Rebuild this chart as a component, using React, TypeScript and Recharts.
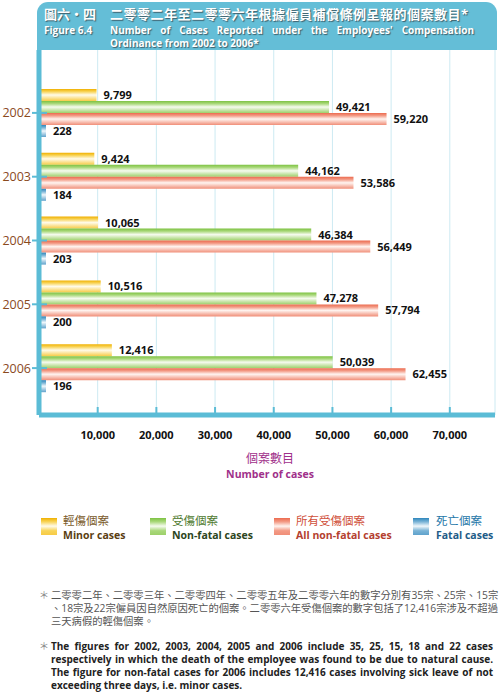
import React from 'react'
import { BarChart, Bar, XAxis, YAxis, CartesianGrid, LabelList } from 'recharts'

const years = ['2002', '2003', '2004', '2005', '2006']
const minorCases = [9799, 9424, 10065, 10516, 12416]
const nonFatalCases = [49421, 44162, 46384, 47278, 50039]
const allNonFatalCases = [59220, 53586, 56449, 57794, 62455]
const fatalCases = [228, 184, 203, 200, 196]
const xTicks = [10000, 20000, 30000, 40000, 50000, 60000, 70000]

const FONT = "'Open Sans', 'Noto Sans CJK TC', sans-serif"
const AXIS_BLUE = '#5BBCD6'

const data = years.map((year, i) => ({
  year,
  minor: minorCases[i],
  nonFatal: nonFatalCases[i],
  allNonFatal: allNonFatalCases[i],
  fatal: fatalCases[i],
}))

const series = [
  { key: 'minor', grad: 'gMinor', top: '#F0B000', mid: '#F8D458', light: '#FFFBEA', bottom: '#F7CB45' },
  { key: 'nonFatal', grad: 'gNonFatal', top: '#7DC242', mid: '#A9D87A', light: '#F6FBEF', bottom: '#9DD06A' },
  { key: 'allNonFatal', grad: 'gAll', top: '#EC6A4E', mid: '#F39A85', light: '#FFF4F0', bottom: '#F08E78' },
  { key: 'fatal', grad: 'gFatal', top: '#2E86BC', mid: '#79B3D6', light: '#F0F7FB', bottom: '#5FA2CC' },
]

const legendItems = [
  { zh: '輕傷個案', en: 'Minor cases', zhColor: '#7A5A2A', enColor: '#5A3E12', x: 41, textX: 63, ...series[0] },
  { zh: '受傷個案', en: 'Non-fatal cases', zhColor: '#4E7A2E', enColor: '#2C4520', x: 150, textX: 172, ...series[1] },
  { zh: '所有受傷個案', en: 'All non-fatal cases', zhColor: '#D0503A', enColor: '#B4402F', x: 274, textX: 296, ...series[2] },
  { zh: '死亡個案', en: 'Fatal cases', zhColor: '#2577A8', enColor: '#1E5C88', x: 413, textX: 436, ...series[3] },
]

const fmt = (v: number) => v.toLocaleString('en-US')

const YearTick = (props: any) => {
  const { x, y, payload } = props
  return (
    <g>
      <line x1={x - 7} x2={x + 8} y1={y} y2={y} stroke={AXIS_BLUE} strokeWidth={2} />
      <text x={x - 8} y={y} dy="0.36em" textAnchor="end" fill="#8A4A1E" fontSize={12.5} fontFamily={FONT}>
        {payload.value}
      </text>
    </g>
  )
}

const CaseTick = (props: any) => {
  const { x, y, payload } = props
  return (
    <g>
      <line x1={x} x2={x} y1={y - 8} y2={y} stroke={AXIS_BLUE} strokeWidth={2} />
      <text x={x} y={y + 20} dy="0.36em" textAnchor="middle" fill="#111" fontSize={11} fontWeight="bold" fontFamily={FONT}>
        {fmt(payload.value)}
      </text>
    </g>
  )
}

const justifyLine: React.CSSProperties = {
  textAlign: 'justify',
  textAlignLast: 'justify',
  whiteSpace: 'nowrap',
  height: 13,
  lineHeight: '13px',
}

export default function App() {
  return (
    <div style={{ position: 'absolute', left: 0, top: 0, width: 500, height: 698, fontFamily: FONT, background: '#fff', overflow: 'hidden' }}>
      <div style={{ position: 'absolute', left: 0, top: 0 }}>
        <BarChart
          width={500}
          height={450}
          data={data}
          layout="vertical"
          margin={{ top: 50, right: 5, bottom: 5, left: 0 }}
          barGap={0}
          barSize={12}
        >
          <defs>
            {series.map((s) => (
              <linearGradient key={s.grad} id={s.grad} x1="0" y1="0" x2="0" y2="1">
                <stop offset="0%" stopColor={s.top} />
                <stop offset="22%" stopColor={s.mid} />
                <stop offset="50%" stopColor={s.light} />
                <stop offset="100%" stopColor={s.bottom} />
              </linearGradient>
            ))}
          </defs>
          <CartesianGrid horizontal={false} stroke="#CDEAF2" strokeWidth={1} />
          <XAxis
            type="number"
            domain={[0, 77700]}
            ticks={xTicks}
            interval={0}
            height={30}
            tickLine={false}
            tickSize={0}
            tickMargin={0}
            axisLine={{ stroke: AXIS_BLUE, strokeWidth: 5 }}
            tick={<CaseTick />}
          />
          <YAxis
            type="category"
            dataKey="year"
            width={39}
            padding={{ top: 31, bottom: 15 }}
            tickLine={false}
            tickSize={0}
            tickMargin={0}
            axisLine={{ stroke: AXIS_BLUE, strokeWidth: 5 }}
            tick={<YearTick />}
          />
          {series.map((s) => (
            <Bar
              key={s.key}
              dataKey={s.key}
              fill={`url(#${s.grad})`}
              isAnimationActive={false}
              minPointSize={s.key === 'fatal' ? 7 : 0}
            >
              <LabelList
                dataKey={s.key}
                position="right"
                offset={7}
                formatter={(v: any) => fmt(Number(v))}
                fill="#111"
                fontSize={11}
                fontWeight="bold"
                fontFamily={FONT}
              />
            </Bar>
          ))}
        </BarChart>
      </div>

      {/* header band */}
      <div
        style={{
          position: 'absolute',
          left: 37,
          top: 2,
          width: 460,
          height: 48,
          background: '#64BED7',
          borderRadius: '11px 11px 0 0',
          color: '#fff',
          fontWeight: 'bold',
          textShadow: '1px 1px 1px #3E5F6A',
        }}
      >
        <div style={{ position: 'absolute', left: 7, top: 4, fontSize: 13, lineHeight: '16px', height: 16, whiteSpace: 'nowrap' }}>圖六・四</div>
        <div style={{ position: 'absolute', left: 73, top: 4, fontSize: 13, letterSpacing: 0.5, lineHeight: '16px', height: 16, whiteSpace: 'nowrap' }}>
          二零零二年至二零零六年根據僱員補償條例呈報的個案數目*
        </div>
        <div style={{ position: 'absolute', left: 7, top: 22, fontSize: 10, lineHeight: '12px', height: 12, whiteSpace: 'nowrap' }}>Figure 6.4</div>
        <div style={{ position: 'absolute', left: 73, top: 22, width: 364, fontSize: 10, lineHeight: '12px', height: 12, textAlign: 'justify', textAlignLast: 'justify', whiteSpace: 'nowrap' }}>
          Number of Cases Reported under the Employees' Compensation
        </div>
        <div style={{ position: 'absolute', left: 73, top: 35, fontSize: 10, lineHeight: '12px', height: 12, whiteSpace: 'nowrap' }}>
          Ordinance from 2002 to 2006*
        </div>
      </div>

      {/* axis title */}
      <div style={{ position: 'absolute', left: 170, width: 200, top: 452, textAlign: 'center', color: '#A0308A' }}>
        <div style={{ fontSize: 12, lineHeight: '13px', height: 13 }}>個案數目</div>
        <div style={{ fontSize: 10.5, lineHeight: '12px', height: 12, marginTop: 3, fontWeight: 'bold' }}>Number of cases</div>
      </div>

      {/* legend */}
      {legendItems.map((it) => (
        <React.Fragment key={it.key}>
          <div
            style={{
              position: 'absolute',
              left: it.x,
              top: 518,
              width: 16,
              height: 17,
              background: `linear-gradient(to bottom, ${it.top} 0%, ${it.mid} 22%, ${it.light} 48%, ${it.mid} 75%, ${it.bottom} 100%)`,
            }}
          />
          <div style={{ position: 'absolute', left: it.textX, top: 514, fontSize: 11.5, lineHeight: '14px', height: 14, color: it.zhColor, whiteSpace: 'nowrap' }}>
            {it.zh}
          </div>
          <div style={{ position: 'absolute', left: it.textX, top: 529, fontSize: 10.5, lineHeight: '12px', height: 12, fontWeight: 'bold', color: it.enColor, whiteSpace: 'nowrap' }}>
            {it.en}
          </div>
        </React.Fragment>
      ))}

      {/* notes */}
      <div style={{ position: 'absolute', left: 39, top: 589, fontSize: 10, lineHeight: '13px', color: '#888' }}>＊</div>
      <div style={{ position: 'absolute', left: 51, top: 589, width: 442, fontSize: 10.3, color: '#555' }}>
        <div style={justifyLine}>二零零二年、二零零三年、二零零四年、二零零五年及二零零六年的數字分別有35宗、25宗、15宗</div>
        <div style={justifyLine}>、18宗及22宗僱員因自然原因死亡的個案。二零零六年受傷個案的數字包括了12,416宗涉及不超過</div>
        <div style={{ ...justifyLine, textAlignLast: 'left' }}>三天病假的輕傷個案。</div>
      </div>

      <div style={{ position: 'absolute', left: 39, top: 640, fontSize: 10, lineHeight: '13px', color: '#888' }}>＊</div>
      <div style={{ position: 'absolute', left: 51, top: 640, width: 442, fontSize: 10, fontWeight: 'bold', color: '#222' }}>
        <div style={justifyLine}>The figures for 2002, 2003, 2004, 2005 and 2006 include 35, 25, 15, 18 and 22 cases</div>
        <div style={justifyLine}>respectively in which the death of the employee was found to be due to natural cause.</div>
        <div style={justifyLine}>The figure for non-fatal cases for 2006 includes 12,416 cases involving sick leave of not</div>
        <div style={{ ...justifyLine, textAlignLast: 'left' }}>exceeding three days, i.e. minor cases.</div>
      </div>
    </div>
  )
}
